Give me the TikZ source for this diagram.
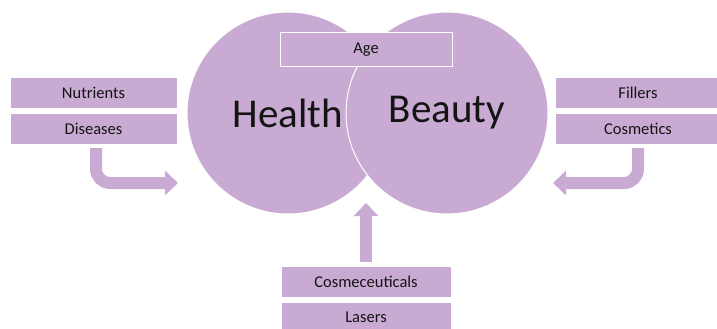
\documentclass[tikz,border=0pt]{standalone}
\usepackage{fontspec}
\setmainfont{Carlito}
\usetikzlibrary{arrows.meta,positioning}
\definecolor{Lilac}{HTML}{C9AAD3}
\definecolor{Ink}{HTML}{141414}

\begin{document}
\begin{tikzpicture}[x=1pt,y=-1pt,
  ring/.style={circle,draw=white,line width=1pt,fill=Lilac,minimum size=202pt,
    inner sep=0pt,text=Ink,font=\fontsize{41}{41}\selectfont},
  tag/.style={draw=white,line width=1pt,fill=Lilac,text=Ink,minimum width=167pt,
    minimum height=31pt,inner sep=0pt,font=\fontsize{16.5}{16.5}\selectfont},
  blockarrow/.style={-{Triangle[length=13pt,width=24pt]},line width=12pt,draw=Lilac,
    rounded corners=14pt}]
\clip (0,0) rectangle (717,329);
\node[ring](health) at (288,113){Health};
\node[ring](beauty) at (447,113){Beauty};
\node[tag,minimum width=172pt,minimum height=34pt](age) at (366,50){Age};
\node[tag](nutrients) at (93.5,93){Nutrients};
\node[tag,below=4pt of nutrients](diseases){Diseases};
\node[tag,minimum width=166pt](fillers) at (638,93){Fillers};
\node[tag,minimum width=166pt,below=4pt of fillers](cosmetics){Cosmetics};
\node[tag,minimum width=170pt](cosmeceuticals) at (366,281.5){Cosmeceuticals};
\node[tag,minimum width=170pt,below=4pt of cosmeceuticals](lasers){Lasers};
\coordinate (leftin) at (178,183);
\coordinate (rightin) at (553,183);
\coordinate (gap) at (366,203);
\draw[blockarrow]([xshift=2.5pt,yshift=-3pt]diseases.south)|-(leftin);
\draw[blockarrow]([yshift=-3pt]cosmetics.south)|-(rightin);
\draw[blockarrow]([yshift=4pt]cosmeceuticals.north)--(gap);
\end{tikzpicture}
\end{document}
